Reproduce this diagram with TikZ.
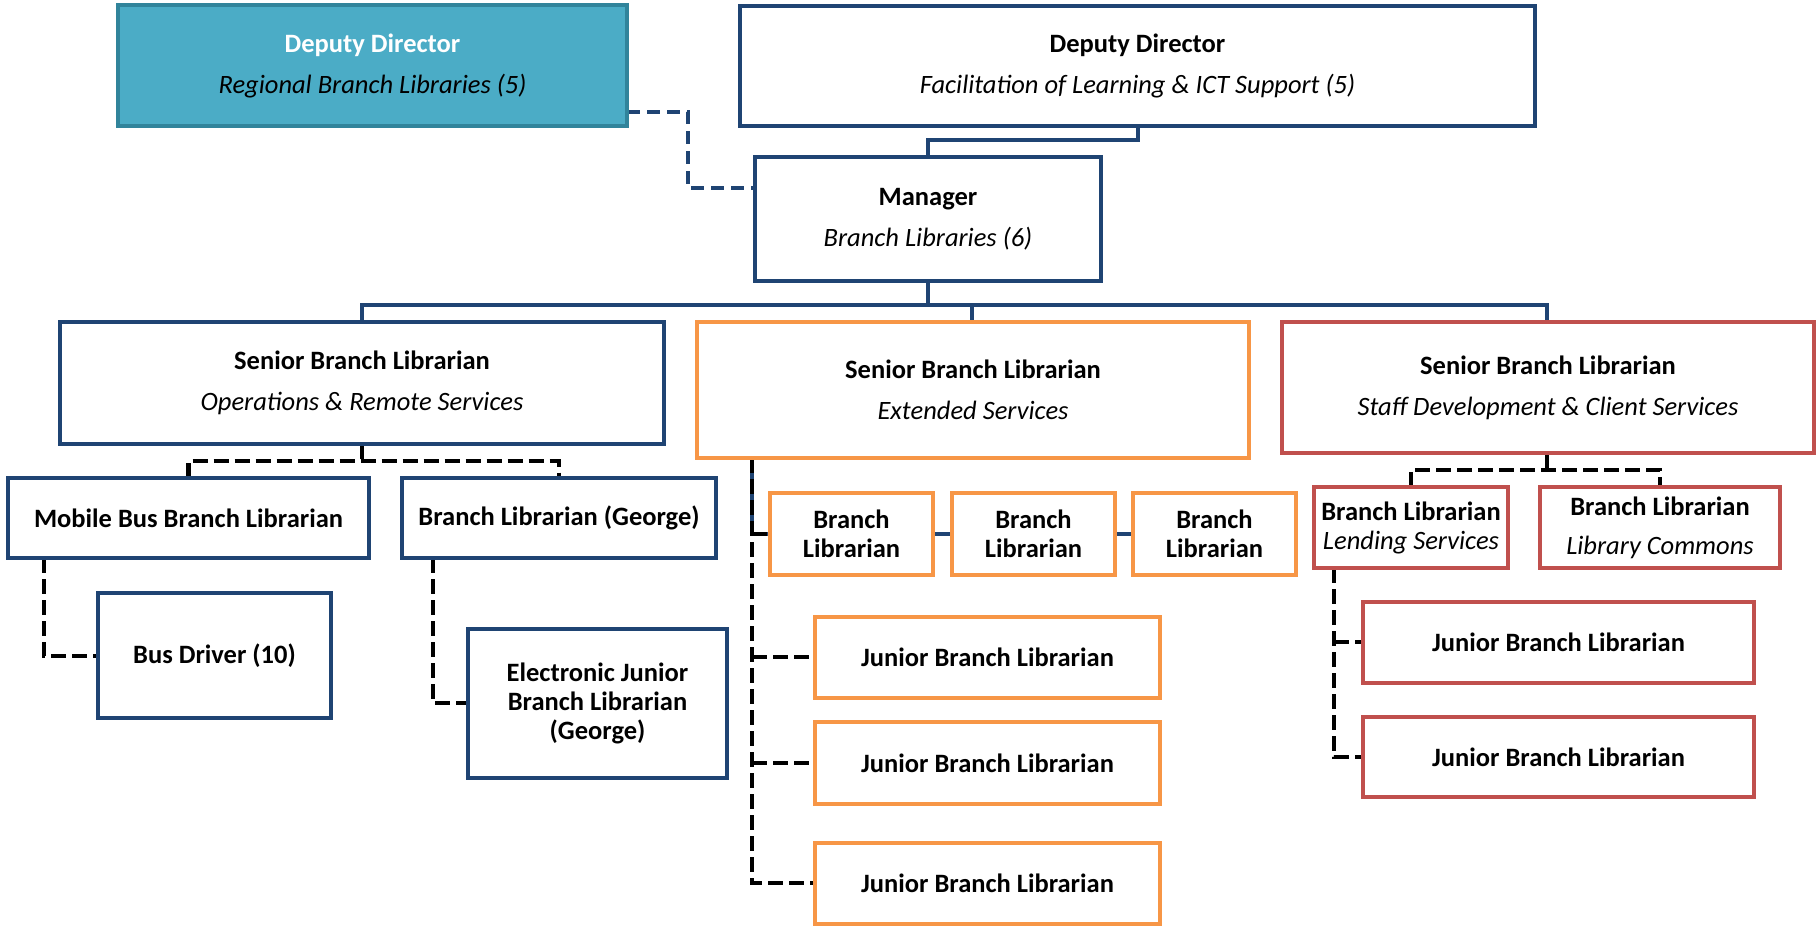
\documentclass[tikz,border=0pt]{standalone}
\usepackage{fontspec}
\setmainfont{Carlito}
\definecolor{navy}{HTML}{1F4473}
\definecolor{orng}{HTML}{F79646}
\definecolor{rd}{HTML}{C0504D}
\definecolor{tealfill}{HTML}{4BACC6}
\definecolor{tealline}{HTML}{31849B}
\begin{document}
\begin{tikzpicture}[x=1pt,y=-1pt,
  box/.style={draw, line width=4.5pt, fill=white, inner sep=0pt, align=center, font=\fontsize{26.5}{41}\selectfont},
  tight/.style={font=\fontsize{26.5}{29}\selectfont},
  navybox/.style={box, draw=navy},
  orbox/.style={box, draw=orng},
  rdbox/.style={box, draw=rd},
  tealbox/.style={box, draw=tealline, fill=tealfill},
  solidlink/.style={draw=navy, line width=4.5pt},
  bluedash/.style={draw=navy, line width=4.5pt, dash pattern=on 13pt off 7pt},
  blackdash/.style={draw=black, line width=4.5pt, dash pattern=on 15pt off 6pt}]
\useasboundingbox (0,0) rectangle (1817,926);

% elbow coordinates
\coordinate (e1) at (688,112);
\coordinate (e2) at (688,188);
\coordinate (e3) at (928,140);
\coordinate (e4) at (1138,140);
\coordinate (bus) at (928,305);
\coordinate (s1j) at (362,461);
\coordinate (mobc) at (44,656);
\coordinate (geoc) at (433,703);
\coordinate (s2a) at (752,534);
\coordinate (s2b) at (752,657);
\coordinate (s2c) at (752,763);
\coordinate (s2d) at (752,883);
\coordinate (s3j) at (1547,470);
\coordinate (llb) at (1334,642);
\coordinate (llc) at (1334,757);

% connectors
\draw[bluedash] (627,112) -- (e1) -- (e2) -- (755,188);
\draw[solidlink] (928,157) -- (e3) -- (e4) -- (1138,126);
\draw[solidlink] (928,281) -- (bus);
\draw[solidlink] (362,322) -- (362,305) -- (1547,305) -- (1547,322);
\draw[solidlink] (972,305) -- (972,322);
\draw[blackdash] (362,444) -- (s1j);
\draw[blackdash] (188.5,478) -- (188.5,461) -- (559,461) -- (559,478);
\draw[blackdash] (44,558) -- (mobc) -- (98,656);
\draw[blackdash] (433,558) -- (geoc) -- (468,703);
\draw[solidlink] (752,458) -- (s2a) -- (1133,534);
\draw[blackdash] (752,458) -- (s2d) -- (815,883);
\draw[blackdash] (s2a) -- (770,534);
\draw[blackdash] (s2b) -- (815,657);
\draw[blackdash] (s2c) -- (815,763);
\draw[blackdash] (1547,453) -- (s3j);
\draw[blackdash] (1411,487) -- (1411,470) -- (1660,470) -- (1660,487);
\draw[blackdash] (1334,568) -- (llc) -- (1363,757);
\draw[blackdash] (llb) -- (1363,642);

% boxes
\node[tealbox, minimum width=509, minimum height=121] (ddr) at (372.5,65.5)
  {\textcolor{white}{\textbf{Deputy Director}}\\\textit{Regional Branch Libraries (5)}};
\node[navybox, minimum width=795, minimum height=120] (ddf) at (1137.5,66)
  {\textbf{Deputy Director}\\\textit{Facilitation of Learning \& ICT Support (5)}};
\node[navybox, minimum width=346, minimum height=124] (mgr) at (928,219)
  {\textbf{Manager}\\\textit{Branch Libraries (6)}};
\node[navybox, minimum width=604, minimum height=122] (s1) at (362,383)
  {\textbf{Senior Branch Librarian}\\\textit{Operations \& Remote Services}};
\node[orbox, minimum width=552, minimum height=136] (s2) at (973,390)
  {\textbf{Senior Branch Librarian}\\\textit{Extended Services}};
\node[rdbox, minimum width=532, minimum height=131] (s3) at (1548,387.5)
  {\textbf{Senior Branch Librarian}\\\textit{Staff Development \& Client Services}};
\node[navybox, minimum width=361, minimum height=80] (mob) at (188.5,518)
  {\textbf{Mobile Bus Branch Librarian}};
\node[navybox, minimum width=314, minimum height=80] (geo) at (559,518)
  {\textbf{Branch Librarian (George)}};
\node[navybox, minimum width=233, minimum height=125] (busd) at (214.5,655.5)
  {\textbf{Bus Driver (10)}};
\node[navybox, tight, minimum width=259, minimum height=149] (ejr) at (597.5,703.5)
  {\textbf{Electronic Junior}\\\textbf{Branch Librarian}\\\textbf{(George)}};
\node[orbox, tight, minimum width=163, minimum height=82] (bl1) at (851.5,534)
  {\textbf{Branch}\\\textbf{Librarian}};
\node[orbox, tight, minimum width=163, minimum height=82] (bl2) at (1033.5,534)
  {\textbf{Branch}\\\textbf{Librarian}};
\node[orbox, tight, minimum width=163, minimum height=82] (bl3) at (1214.5,534)
  {\textbf{Branch}\\\textbf{Librarian}};
\node[orbox, minimum width=345, minimum height=81] (j1) at (987.5,657.5)
  {\textbf{Junior Branch Librarian}};
\node[orbox, minimum width=345, minimum height=82] (j2) at (987.5,763)
  {\textbf{Junior Branch Librarian}};
\node[orbox, minimum width=345, minimum height=81] (j3) at (987.5,883.5)
  {\textbf{Junior Branch Librarian}};
\node[rdbox, tight, minimum width=194, minimum height=81] (bll) at (1411,527.5)
  {\textbf{Branch Librarian}\\\textit{Lending Services}};
\node[rdbox, font=\fontsize{26.5}{39}\selectfont, minimum width=240, minimum height=81] (blc) at (1660,527.5)
  {\textbf{Branch Librarian}\\\textit{Library Commons}};
\node[rdbox, minimum width=391, minimum height=81] (jr1) at (1558.5,642.5)
  {\textbf{Junior Branch Librarian}};
\node[rdbox, minimum width=391, minimum height=80] (jr2) at (1558.5,757)
  {\textbf{Junior Branch Librarian}};
\end{tikzpicture}
\end{document}
